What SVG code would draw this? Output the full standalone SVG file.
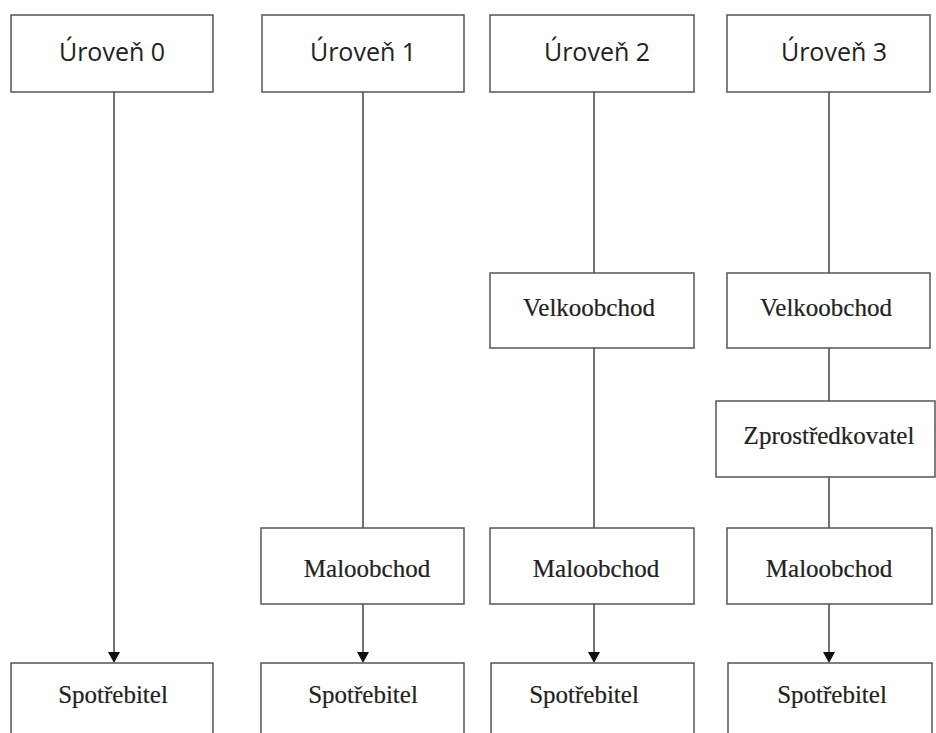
<svg xmlns="http://www.w3.org/2000/svg" width="936" height="733" viewBox="0 0 936 733">
<style>
.box{fill:#fff;stroke:#555;stroke-width:1.5}
.lvl{font-family:"Open Sans","Liberation Sans",sans-serif;font-size:25px;fill:#222;text-anchor:middle}
.lbl{font-family:"Liberation Serif","Times New Roman",serif;font-size:25px;fill:#222;text-anchor:middle;stroke:#222;stroke-width:0.2}
.con{stroke:#444;stroke-width:1.5;fill:none}
.head{fill:#111}
</style>
<rect width="936" height="733" fill="#fff"/>
<g id="connectors">
<path class="con" d="M114,92 V652"/>
<path class="head" d="M108,652 L120,652 L114,663 Z"/>
<path class="con" d="M363,92 V528"/>
<path class="con" d="M363,604 V652"/>
<path class="head" d="M357,652 L369,652 L363,663 Z"/>
<path class="con" d="M594,92 V273"/>
<path class="con" d="M594,348 V528"/>
<path class="con" d="M594,604 V652"/>
<path class="head" d="M588,652 L600,652 L594,663 Z"/>
<path class="con" d="M829,92 V273"/>
<path class="con" d="M829,348 V401"/>
<path class="con" d="M829,477 V528"/>
<path class="con" d="M829,604 V652"/>
<path class="head" d="M823,652 L835,652 L829,663 Z"/>
</g>
<g id="uroven0"><rect class="box" x="11" y="15" width="202" height="77"/><text class="lvl" x="112" y="61">Úroveň 0</text></g>
<g id="uroven1"><rect class="box" x="262" y="15" width="202" height="77"/><text class="lvl" x="363" y="61">Úroveň 1</text></g>
<g id="uroven2"><rect class="box" x="490" y="15" width="204" height="77"/><text class="lvl" x="597" y="61">Úroveň 2</text></g>
<g id="uroven3"><rect class="box" x="727" y="15" width="203" height="77"/><text class="lvl" x="834" y="61">Úroveň 3</text></g>
<g id="velko2"><rect class="box" x="490" y="273" width="204" height="75"/><text class="lbl" x="589" y="316">Velkoobchod</text></g>
<g id="velko3"><rect class="box" x="727" y="273" width="203" height="75"/><text class="lbl" x="826" y="316">Velkoobchod</text></g>
<g id="zpros3"><rect class="box" x="716" y="401" width="219" height="76"/><text class="lbl" x="829" y="444">Zprostředkovatel</text></g>
<g id="malo1"><rect class="box" x="261" y="528" width="203" height="76"/><text class="lbl" x="367" y="577">Maloobchod</text></g>
<g id="malo2"><rect class="box" x="490" y="528" width="204" height="76"/><text class="lbl" x="596" y="577">Maloobchod</text></g>
<g id="malo3"><rect class="box" x="727" y="528" width="205" height="76"/><text class="lbl" x="829" y="577">Maloobchod</text></g>
<g id="spotr0"><rect class="box" x="11" y="663" width="202" height="80"/><text class="lbl" x="113" y="703">Spotřebitel</text></g>
<g id="spotr1"><rect class="box" x="261" y="663" width="203" height="80"/><text class="lbl" x="363" y="703">Spotřebitel</text></g>
<g id="spotr2"><rect class="box" x="491" y="663" width="203" height="80"/><text class="lbl" x="584" y="703">Spotřebitel</text></g>
<g id="spotr3"><rect class="box" x="728" y="663" width="204" height="80"/><text class="lbl" x="832" y="703">Spotřebitel</text></g>
</svg>
